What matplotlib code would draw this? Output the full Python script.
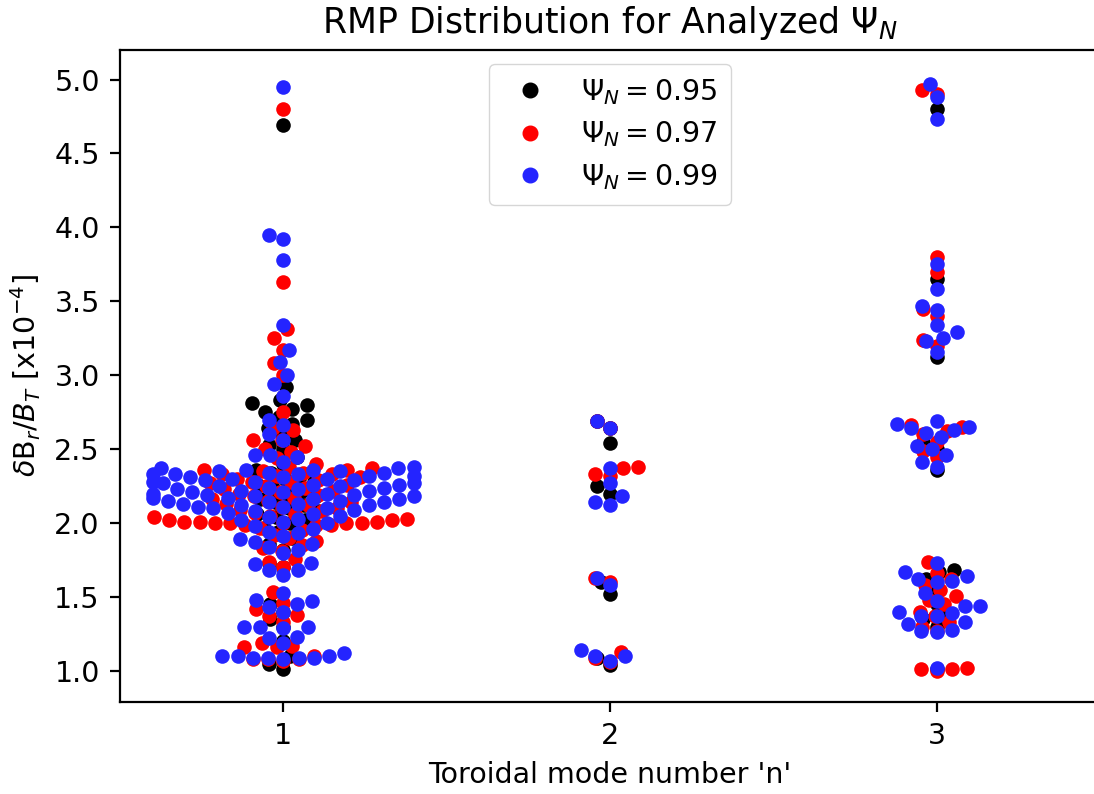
"""
RMP distribution swarm plot for the analysed Psi_N surfaces
"""

import warnings

import numpy as np
import pandas as pd
import matplotlib
matplotlib.use("Agg")
import matplotlib.pyplot as plt
import seaborn as sns
from matplotlib.lines import Line2D
from matplotlib.ticker import FormatStrFormatter

warnings.filterwarnings("ignore")

modes = [1, 2, 3]
psi_labels = [r"$\Psi_N = 0.95$", r"$\Psi_N = 0.97$", r"$\Psi_N = 0.99$"]
psi_colors = ["black", "#ff0000", "#2424ff"]

# Psi_N = 0.95
black_n1 = [4.69, 2.92, 2.83, 2.81, 2.80, 2.77, 2.75, 2.72, 2.70, 2.67, 2.64, 2.60,
            2.56, 2.53, 2.50, 2.45, 2.40, 2.36, 2.34, 2.32, 2.30, 2.28, 2.26, 2.24,
            2.22, 2.20, 2.18, 2.16, 2.14, 2.12, 2.10, 2.08, 2.06, 2.04, 2.02, 2.00,
            1.97, 1.94, 1.90, 1.86, 1.82, 1.73, 1.70, 1.45, 1.40, 1.35, 1.30, 1.20,
            1.10, 1.05, 1.01]
black_n2 = [2.69, 2.64, 2.54, 2.25, 2.20, 1.60, 1.52, 1.09, 1.04]
black_n3 = [4.80, 3.65, 3.12, 2.55, 2.50, 2.36, 1.68, 1.67, 1.62, 1.55, 1.45,
            1.37, 1.35, 1.30, 1.01]

# Psi_N = 0.97
red_n1 = [4.80, 3.63, 3.31, 3.25, 3.17, 3.08, 3.00, 2.75, 2.64, 2.63, 2.56, 2.56,
          2.52, 2.50, 2.48, 2.44, 2.40,
          2.38, 2.37, 2.36, 2.36, 2.35, 2.34, 2.33, 2.33, 2.32, 2.31, 2.30, 2.29,
          2.28, 2.28, 2.27, 2.26, 2.25, 2.24, 2.23, 2.22, 2.21, 2.20, 2.19, 2.18,
          2.17, 2.16, 2.15, 2.14, 2.13, 2.12, 2.11, 2.10, 2.09, 2.08, 2.07, 2.06,
          2.05, 2.04, 2.03,
          2.02, 2.02, 2.01, 2.01, 2.01, 2.00, 2.00, 2.00, 2.00, 2.00,
          1.99, 1.99, 1.99,
          1.97, 1.95, 1.92, 1.90, 1.88, 1.85, 1.83, 1.81, 1.76, 1.74, 1.70,
          1.535, 1.46, 1.42, 1.38, 1.37, 1.33, 1.19, 1.17, 1.16, 1.16,
          1.10, 1.08, 1.08, 1.08, 1.07]
red_n2 = [2.69, 2.64, 2.38, 2.37, 2.33, 2.32, 1.63, 1.60, 1.13, 1.09, 1.06]
red_n3 = [4.93, 4.90, 3.80, 3.70, 3.45, 3.40, 3.24, 3.20, 2.66, 2.65, 2.62, 2.60,
          2.55, 2.49, 2.45, 1.74, 1.66, 1.62, 1.58, 1.55, 1.51, 1.48, 1.45, 1.40,
          1.37, 1.33, 1.30, 1.27, 1.02, 1.01, 1.00, 1.015]

# Psi_N = 0.99
blue_n1 = [4.95, 3.95, 3.92, 3.78, 3.34, 3.17, 3.09, 3.00, 2.94, 2.86, 2.70, 2.66,
           2.60, 2.56, 2.46, 2.46, 2.45, 2.41,
           2.38, 2.37, 2.37, 2.36, 2.36, 2.35, 2.35, 2.34, 2.34, 2.33, 2.33, 2.33,
           2.32, 2.32, 2.31, 2.31, 2.30, 2.30,
           2.29, 2.29, 2.28, 2.28, 2.27, 2.27, 2.26, 2.26, 2.25, 2.25, 2.24, 2.24,
           2.23, 2.23, 2.22, 2.22, 2.21, 2.21, 2.20, 2.20,
           2.19, 2.19, 2.18, 2.18, 2.17, 2.17, 2.16, 2.16, 2.15, 2.15, 2.14, 2.14,
           2.13, 2.13, 2.12, 2.12, 2.11, 2.11, 2.10, 2.10,
           2.09, 2.08, 2.07, 2.06, 2.05, 2.04, 2.03, 2.02, 2.01, 2.00,
           1.98, 1.96, 1.94, 1.93, 1.91, 1.89, 1.87, 1.86, 1.84, 1.82, 1.80,
           1.73, 1.72, 1.68, 1.68, 1.65,
           1.53, 1.48, 1.47, 1.45, 1.43, 1.40, 1.30, 1.30, 1.30, 1.29, 1.23, 1.22,
           1.19, 1.12, 1.10, 1.10, 1.10, 1.09, 1.09, 1.09, 1.09, 1.08]
blue_n2 = [2.69, 2.64, 2.37, 2.27, 2.18, 2.14, 2.12, 1.63, 1.58, 1.14, 1.10,
           1.10, 1.07]
blue_n3 = [4.97, 4.88, 4.73, 3.75, 3.58, 3.47, 3.44, 3.34, 3.29, 3.25, 3.23, 3.16,
           2.69, 2.67, 2.65, 2.64, 2.63, 2.61, 2.58, 2.52, 2.50, 2.46, 2.41, 2.38,
           1.73, 1.67, 1.64, 1.62, 1.61, 1.60, 1.53, 1.47, 1.44, 1.44, 1.40, 1.39,
           1.37, 1.37, 1.33, 1.32, 1.28, 1.27, 1.26, 1.02]


def make_frame(n1, n2, n3):
    return pd.DataFrame({
        "n": [1] * len(n1) + [2] * len(n2) + [3] * len(n3),
        "dB": n1 + n2 + n3,
    })


frames = [
    make_frame(black_n1, black_n2, black_n3),
    make_frame(red_n1, red_n2, red_n3),
    make_frame(blue_n1, blue_n2, blue_n3),
]

fig = plt.figure(figsize=(10.94, 7.94), dpi=100)
ax = fig.add_axes([0.1097, 0.1159, 0.8958, 0.8212])

for df, color in zip(frames, psi_colors):
    sns.swarmplot(data=df, x="n", y="dB", order=modes, color=color,
                  size=10.5, linewidth=0, ax=ax)

ax.set_xlim(-0.5, 2.5)
ax.set_ylim(0.79, 5.20)
ax.set_yticks(np.arange(1.0, 5.01, 0.5))
ax.yaxis.set_major_formatter(FormatStrFormatter("%.1f"))

for side in ["left", "bottom", "top", "right"]:
    ax.spines[side].set_linewidth(1.6)
ax.tick_params(length=7.5, width=1.6, labelsize=20.5, pad=7)

ax.set_xlabel("Toroidal mode number 'n'", fontsize=20.5, labelpad=8)
ax.set_ylabel(r"$\delta$B$_r$/$B_T$ [x10$^{-4}$]", fontsize=20.5, labelpad=8)
ax.set_title(r"RMP Distribution for Analyzed $\Psi_N$", fontsize=25, pad=12)

handles = [Line2D([], [], marker="o", linestyle="", color=c, markersize=10.5)
           for c in psi_colors]
ax.legend(handles, psi_labels, loc="upper center", fontsize=20.5,
          edgecolor="0.8", framealpha=0.8, borderpad=0.45, labelspacing=0.45)

fig.savefig("out.png", dpi=100)
